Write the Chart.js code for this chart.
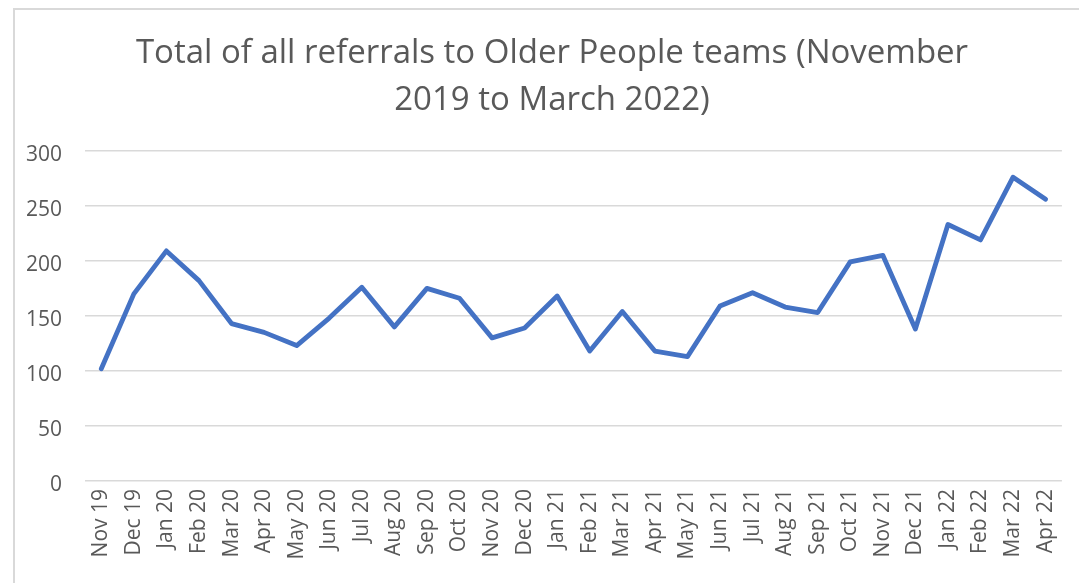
<!DOCTYPE html>
<html>
<head>
<meta charset="utf-8">
<script src="https://cdn.jsdelivr.net/npm/chart.js@4"></script>
<style>
  html, body { margin: 0; padding: 0; background: #fff; }
  #wrap { position: relative; width: 1079px; height: 583px; overflow: hidden; background: #fff; }
  #frame { position: absolute; left: 13px; top: 8px; width: 1200px; height: 700px; border: 2px solid #d9d9d9; box-sizing: border-box; }
  #chart { position: absolute; left: 0; top: 0; }
</style>
</head>
<body>
<div id="wrap">
  <div id="frame"></div>
  <canvas id="chart" width="1079" height="583"></canvas>
</div>
<script>
// Monthly referral totals, Nov 2019 - Apr 2022
const months = ['Nov 19', 'Dec 19', 'Jan 20', 'Feb 20', 'Mar 20', 'Apr 20', 'May 20', 'Jun 20', 'Jul 20', 'Aug 20',
    'Sep 20', 'Oct 20', 'Nov 20', 'Dec 20', 'Jan 21', 'Feb 21', 'Mar 21', 'Apr 21', 'May 21', 'Jun 21',
    'Jul 21', 'Aug 21', 'Sep 21', 'Oct 21', 'Nov 21', 'Dec 21', 'Jan 22', 'Feb 22', 'Mar 22', 'Apr 22'];
const referrals = [102, 170, 209, 182, 143, 135, 123, 148, 176, 140,
    175, 166, 130, 139, 168, 118, 154, 118, 113, 159,
    171, 158, 153, 199, 205, 138, 233, 219, 276, 256];
const titleLines = ['Total of all referrals to Older People teams (November', '2019 to March 2022)'];
const yMin = 0;
const yMax = 300;
const yStep = 50;

const textGrey = '#595959';
const gridGrey = '#d9d9d9';

// nudge the title block so it is centred like the original (over the frame, not the canvas)
const titleShift = {
    id: 'titleShift',
    afterLayout(chart) {
        if (chart.titleBlock) {
            chart.titleBlock.left = 35;
        }
    }
};

const ctx = document.getElementById('chart').getContext('2d');
new Chart(ctx, {
    type: 'line',
    data: {
        labels: months,
        datasets: [{
            label: 'Referrals',
            data: referrals,
            borderColor: '#4472c4',
            backgroundColor: '#4472c4',
            borderWidth: 4.8,
            borderJoinStyle: 'round',
            borderCapStyle: 'round',
            pointRadius: 0,
            tension: 0,
            fill: false
        }]
    },
    options: {
        responsive: false,
        animation: false,
        devicePixelRatio: 1,
        layout: { padding: { left: 0, right: 10, top: 30, bottom: 0 } },
        plugins: {
            legend: { display: false },
            tooltip: { enabled: false },
            title: {
                display: true,
                text: titleLines,
                color: textGrey,
                font: { family: "'Open Sans', sans-serif", size: 33, weight: 'normal', lineHeight: 1.42 },
                padding: { top: 0, bottom: 27 }
            }
        },
        scales: {
            x: {
                offset: true,
                grid: { display: false, drawTicks: false },
                border: { display: false },
                ticks: {
                    color: textGrey,
                    font: { family: "'Open Sans', sans-serif", size: 21 },
                    minRotation: 90,
                    maxRotation: 90,
                    autoSkip: false,
                    padding: 8
                },
                afterFit: (scale) => { scale.height = 102; }
            },
            y: {
                min: yMin,
                max: yMax,
                grid: { color: gridGrey, lineWidth: 1.5, drawTicks: false },
                border: { display: false },
                ticks: {
                    stepSize: yStep,
                    color: textGrey,
                    font: { family: "'Open Sans', sans-serif", size: 21 },
                    padding: 23,
                    labelOffset: 4
                },
                afterFit: (scale) => { scale.width = 85; }
            }
        }
    },
    plugins: [titleShift]
});
</script>
</body>
</html>
